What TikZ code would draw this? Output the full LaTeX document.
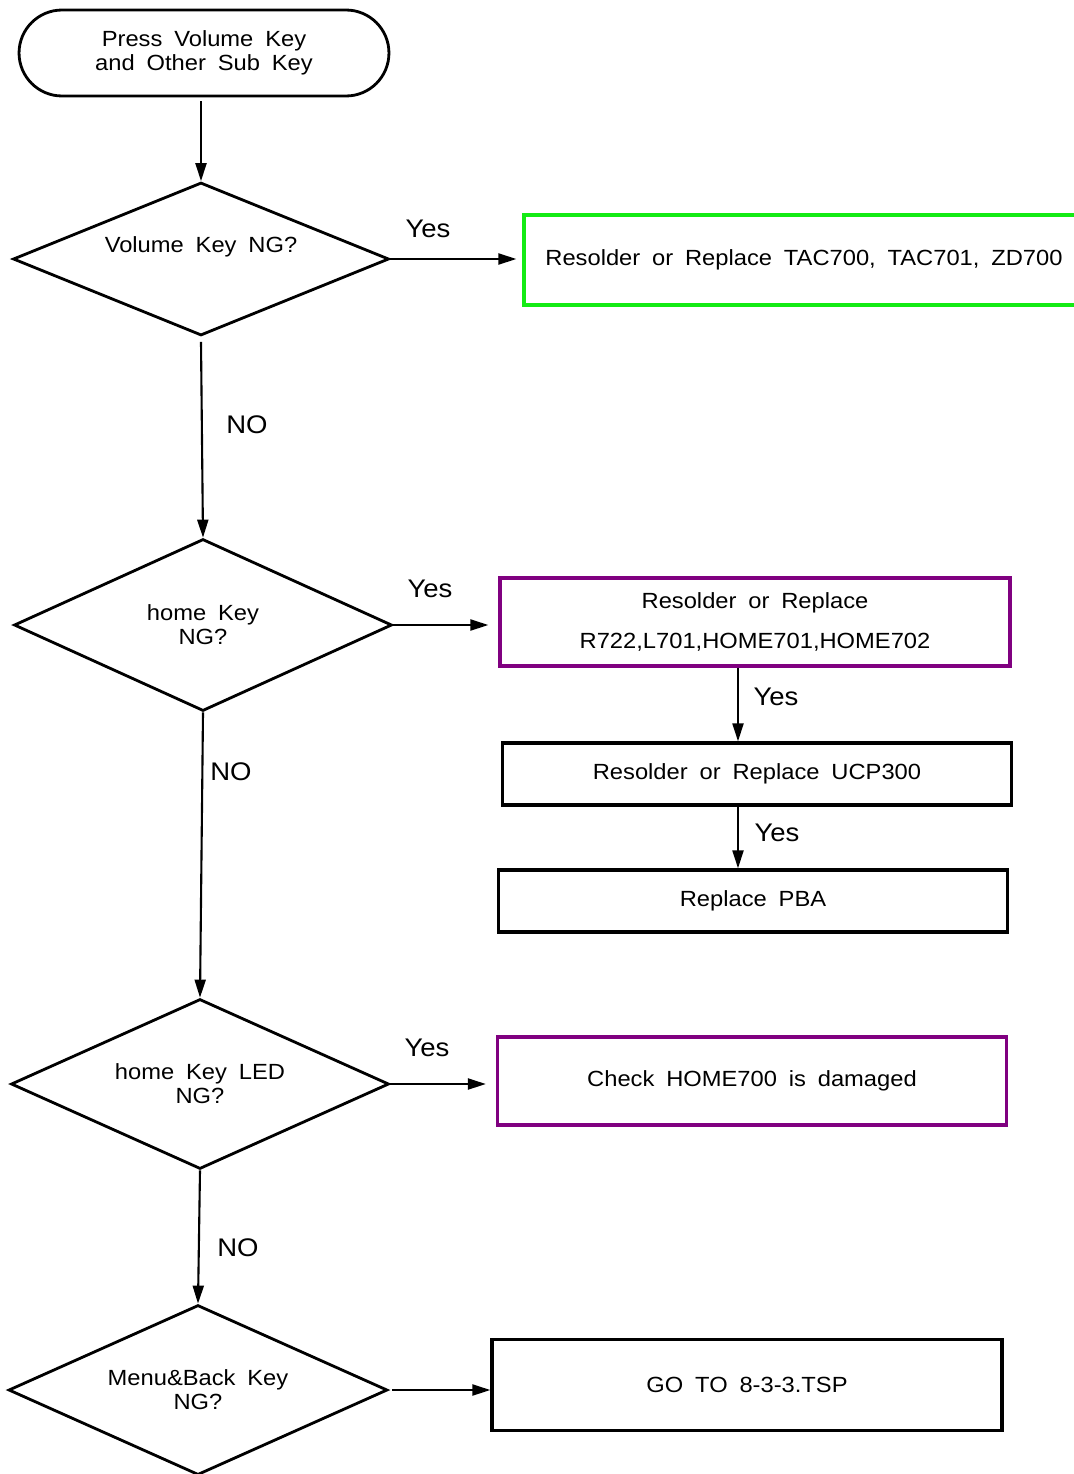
\documentclass[tikz,border=0pt]{standalone}
\usepackage{fontspec}
\setmainfont{Liberation Sans}[WordSpace=1.8,FakeStretch=1.08]
\usetikzlibrary{shapes.geometric,shapes.misc,arrows.meta}
\definecolor{okgreen}{RGB}{20,235,20}
\definecolor{keypurple}{RGB}{128,0,128}
\tikzset{
  txt/.style={font=\fontsize{12.5}{13.6}\selectfont, align=center},
  lbl/.style={font=\fontsize{14.5}{17}\selectfont, inner sep=0pt},
  startbox/.style={txt, draw, line width=1.6pt, rounded rectangle, minimum width=7.4cm, minimum height=1.72cm, inner sep=0pt},
  check/.style={txt, draw, line width=1.6pt, diamond, aspect=2.4, inner sep=0pt, minimum width=7.56cm, minimum height=3.4cm},
  stepbox/.style={txt, draw, line width=1.9pt, rectangle, minimum width=10.18cm, minimum height=1.24cm, inner sep=0pt},
  conn/.style={line width=1.2pt, -{Triangle[length=0.36cm,width=0.22cm]}}
}
\begin{document}
\begin{tikzpicture}[x=0.02cm, y=-0.02cm]
		%%%%% START %%%%%
		\useasboundingbox (0, 0) rectangle (1074, 1474);
		
		\node[startbox] (start) at (204, 53) {Press Volume Key\\and Other Sub Key};
		
		\node[check, minimum width=7.52cm, minimum height=3.06cm, text depth=16pt] (volume) at (201, 259) {Volume Key NG?};
		\node[check, minimum height=3.44cm] (home) at (203, 625) {home Key\\NG?};
		\node[check] (homeled) at (200, 1084) {home Key LED\\NG?};
		\node[check, minimum width=7.58cm] (menuback) at (198, 1390) {Menu\&Back Key\\NG?};
		
		\node[stepbox, draw=okgreen, minimum width=11.2cm, minimum height=1.8cm] (tac) at (804, 260) {Resolder or Replace TAC700, TAC701, ZD700};
		\node[stepbox, draw=keypurple, minimum width=10.2cm, minimum height=1.76cm] (homefix) at (755, 622) {Resolder or Replace\\[9pt]R722,L701,HOME701,HOME702};
		\node[stepbox] (ucp) at (757, 774) {Resolder or Replace UCP300};
		\node[stepbox] (pba) at (753, 901) {Replace PBA};
		\node[stepbox, draw=keypurple, minimum height=1.76cm] (damaged) at (752, 1081) {Check HOME700 is damaged};
		\node[stepbox, minimum width=10.2cm, minimum height=1.82cm] (tsp) at (747, 1385) {GO TO 8-3-3.TSP};
		
		\node[lbl] (yes1) at (428, 229) {Yes};
		\node[lbl] (yes2) at (430, 589) {Yes};
		\node[lbl] (yes3) at (776, 697) {Yes};
		\node[lbl] (yes4) at (777, 833) {Yes};
		\node[lbl] (yes5) at (427, 1048) {Yes};
		\node[lbl] (no1) at (247, 425) {NO};
		\node[lbl] (no2) at (231, 772) {NO};
		\node[lbl] (no3) at (238, 1248) {NO};
		
		\draw[conn] ([yshift=-0.08cm]start.south -| volume.north) -- (volume.north);
		\draw[conn] ([yshift=-0.1cm]volume.south) -- (home.north);
		\draw[conn] (home.south) -- (homeled.north);
		\draw[conn] (homeled.south) -- (menuback.north);
		
		\draw[conn] (volume.east) -- ([xshift=-0.12cm]volume.east -| tac.west);
		\draw[conn] (home.east) -- ([xshift=-0.2cm]home.east -| homefix.west);
		\draw[conn] (homeled.east) -- ([xshift=-0.2cm]homeled.east -| damaged.west);
		\draw[conn] ([xshift=0.06cm]menuback.east) -- (menuback.east -| tsp.west);
		
		\draw[conn] ([xshift=-0.34cm]homefix.south) -- ([xshift=-0.34cm]homefix.south |- ucp.north);
		\draw[conn] ([xshift=-0.38cm]ucp.south) -- ([xshift=-0.38cm]ucp.south |- pba.north);
		
		%%%%% END %%%%%
	\end{tikzpicture}
\end{document}
